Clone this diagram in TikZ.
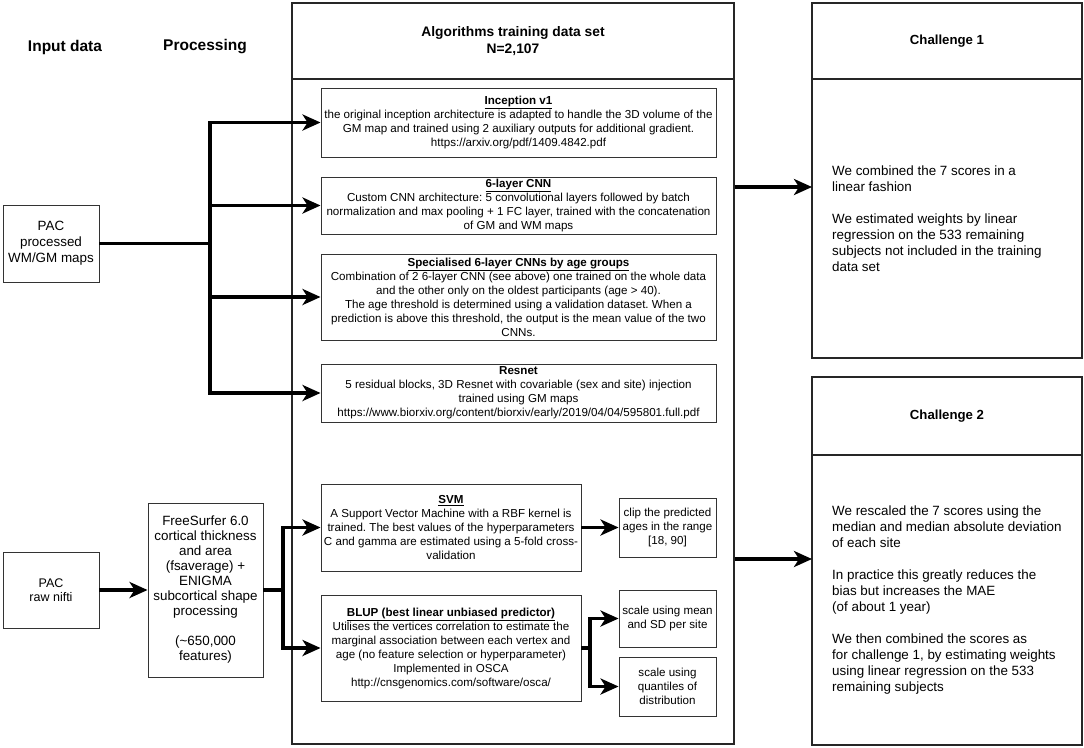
\documentclass[tikz,border=0pt]{standalone}
\usepackage{fontspec}
\setmainfont{Liberation Sans}
\usetikzlibrary{arrows.meta}
\frenchspacing

\begin{document}
\begin{tikzpicture}[x=1pt, y=-1pt,
    box/.style={draw=black!80, line width=0.9pt, align=center, inner sep=1pt, font=\fontsize{11.6}{14}\selectfont},
    frame/.style={draw=black!85, line width=1.3pt, inner sep=0pt, align=center},
    link/.style={line width=3.2pt},
    arr/.style={line width=3.2pt, -{Stealth[length=18pt, width=16pt, inset=5pt]}},
    head/.style={font=\fontsize{15.5}{18}\selectfont\bfseries},
    chead/.style={frame, minimum width=270pt, font=\fontsize{13.2}{16}\selectfont\bfseries},
    note/.style={anchor=west, align=left, inner sep=0pt, font=\fontsize{13.4}{16}\selectfont}]
    \useasboundingbox (0,0) rectangle (1084,747);

    \node[head] (inlbl) at (65,47) {Input data};
    \node[head] (proclbl) at (205,47) {Processing};

    \node[frame, minimum width=442pt, minimum height=76pt, font=\fontsize{13.8}{17}\selectfont\bfseries] (mainhead) at (513,41) {Algorithms training data set\\N=2,107};
    \node[frame, minimum width=442pt, minimum height=665pt] (mainbody) at (513,411.5) {};

    \node[box, minimum width=395pt, minimum height=69pt] (incep) at (518.5,122.5) {\textbf{\underline{Inception v1}}\\the original inception architecture is adapted to handle the 3D volume of the\\GM map and trained using 2 auxiliary outputs for additional gradient.\\https://arxiv.org/pdf/1409.4842.pdf};
    \node[box, minimum width=395pt, minimum height=57pt] (cnn) at (518.5,205.5) {\textbf{\underline{6-layer CNN}}\\Custom CNN architecture: 5 convolutional layers followed by batch\\normalization and max pooling + 1 FC layer, trained with the concatenation\\of GM and WM maps};
    \node[box, minimum width=395pt, minimum height=86pt] (spec) at (518.5,297) {\textbf{\underline{Specialised 6-layer CNNs by age groups}}\\Combination of 2 6-layer CNN (see above) one trained on the whole data\\and the other only on the oldest participants (age > 40).\\The age threshold is determined using a validation dataset. When a\\prediction is above this threshold, the output is the mean value of the two\\CNNs.};
    \node[box, minimum width=395pt, minimum height=58pt] (resnet) at (518.5,393) {\textbf{Resnet}\\5 residual blocks, 3D Resnet with covariable (sex and site) injection\\trained using GM maps\\https://www.biorxiv.org/content/biorxiv/early/2019/04/04/595801.full.pdf};
    \node[box, minimum width=260pt, minimum height=87pt] (svm) at (451,527.5) {\textbf{\underline{SVM}}\\A Support Vector Machine with a RBF kernel is\\trained. The best values of the hyperparameters\\C and gamma are estimated using a 5-fold cross-\\validation};
    \node[box, minimum width=97pt, minimum height=59pt] (clip) at (667.5,527.5) {clip the predicted\\ages in the range\\{[18, 90]}};
    \node[box, minimum width=260pt, minimum height=106pt] (blup) at (451,648) {\textbf{\underline{BLUP (best linear unbiased predictor)}}\\Utilises the vertices correlation to estimate the\\marginal association between each vertex and\\age (no feature selection or hyperparameter)\\Implemented in OSCA\\http://cnsgenomics.com/software/osca/};
    \node[box, minimum width=97pt, minimum height=57pt] (mean) at (667.5,618.5) {scale using mean\\and SD per site};
    \node[box, minimum width=97pt, minimum height=59pt] (quant) at (667.5,686.5) {scale using\\quantiles of\\distribution};

    \node[box, minimum width=96pt, minimum height=77pt, font=\fontsize{13.4}{16}\selectfont] (pacproc) at (51,243.5) {PAC\\processed\\WM/GM maps};
    \node[box, minimum width=96pt, minimum height=76pt, font=\fontsize{12.5}{14}\selectfont] (pacraw) at (51,590) {PAC\\raw nifti};
    \node[box, minimum width=115pt, minimum height=174pt, font=\fontsize{13.4}{15}\selectfont] (fs) at (205.5,590) {FreeSurfer 6.0\\cortical thickness\\and area\\(fsaverage) +\\ENIGMA\\subcortical shape\\processing\\[15pt](\textasciitilde650,000\\features)};

    \node[chead, minimum height=76pt] (c1head) at (947,41) {Challenge 1};
    \node[frame, minimum width=270pt, minimum height=279pt] (c1body) at (947,218.5) {};
    \node[note] (c1text) at (832,218.5) {We combined the 7 scores in a\\linear fashion\\[16pt]We estimated weights by linear\\regression on the 533 remaining\\subjects not included in the training\\data set};
    \node[chead, minimum height=78pt] (c2head) at (947,416) {Challenge 2};
    \node[frame, minimum width=270pt, minimum height=290pt] (c2body) at (947,600) {};
    \node[note] (c2text) at (832,600) {We rescaled the 7 scores using the\\median and median absolute deviation\\of each site\\[16pt]In practice this greatly reduces the\\bias but increases the MAE\\(of about 1 year)\\[16pt]We then combined the scores as\\for challenge 1, by estimating weights\\using linear regression on the 533\\remaining subjects};

    \coordinate (bus) at (210,0);
    \coordinate (fork) at (283,0);
    \coordinate (split) at (590,0);
    \coordinate (c1in) at (812,187);
    \coordinate (c2in) at (812,559);

    \draw[link] (pacproc.east) -- (pacproc.east -| bus);
    \draw[link, line cap=rect] (bus |- incep) -- (bus |- resnet);
    \foreach \n in {incep,cnn,spec,resnet}
        \draw[arr] (bus |- \n) -- (\n.west);

    \draw[arr] (pacraw) -- (fs);
    \draw[link] (fs.east) -- (fs.east -| fork);
    \draw[link, line cap=rect] (fork |- svm) -- (fork |- blup);
    \draw[arr] (fork |- svm) -- (svm.west);
    \draw[arr] (fork |- blup) -- (blup.west);

    \draw[arr] (svm) -- (clip);
    \draw[link] (blup.east) -- (blup.east -| split);
    \draw[link, line cap=rect] (split |- mean) -- (split |- quant);
    \draw[arr] (split |- mean) -- (mean.west);
    \draw[arr] (split |- quant) -- (quant.west);

    \draw[arr] (mainbody.east |- c1in) -- (c1in);
    \draw[arr] (mainbody.east |- c2in) -- (c2in);
\end{tikzpicture}
\end{document}
